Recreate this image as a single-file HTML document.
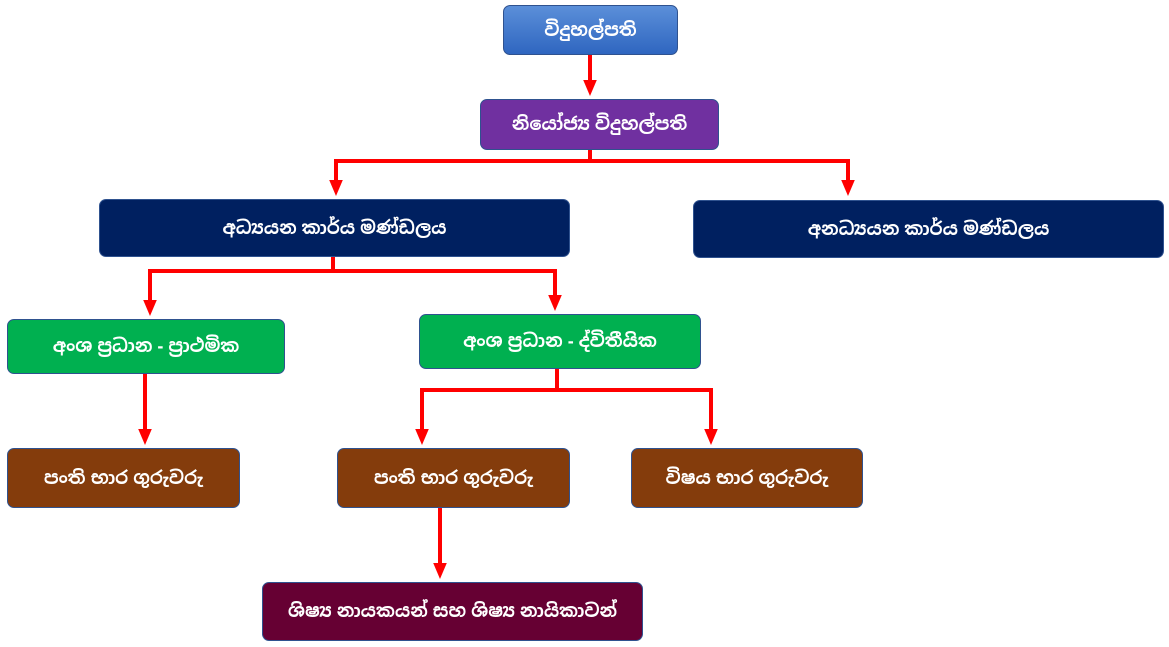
<!DOCTYPE html>
<html><head><meta charset="utf-8"><style>
body{margin:0;width:1169px;height:647px;background:#fff;position:relative;overflow:hidden;font-family:"Liberation Sans","Noto Sans Sinhala","Iskoola Pota",sans-serif}
.b{position:absolute;box-sizing:border-box;border:1px solid #2f528f;border-radius:7px;color:#fff;font-weight:bold;font-size:18px;display:flex;align-items:center;justify-content:center;white-space:nowrap}
svg{position:absolute;left:0;top:0}
</style></head><body>
<svg width="1169" height="647">
<defs><marker id="a" markerWidth="4" markerHeight="4" refX="2" refY="2" orient="auto" markerUnits="strokeWidth"><path d="M0,0.3 L4,2 L0,3.7z" fill="#f00"/></marker></defs>
<g stroke="#f00" stroke-width="4" fill="none">
<path d="M590 54 V88" marker-end="url(#a)"/>
<path d="M590 149 V161 H336 V188" marker-end="url(#a)"/>
<path d="M590 161 H848 V188" marker-end="url(#a)"/>
<path d="M333 256 V271 H150 V308" marker-end="url(#a)"/>
<path d="M333 271 H555 V303" marker-end="url(#a)"/>
<path d="M145 373 V437" marker-end="url(#a)"/>
<path d="M557 368 V390 H422 V437" marker-end="url(#a)"/>
<path d="M557 390 H711 V437" marker-end="url(#a)"/>
<path d="M440 507 V571" marker-end="url(#a)"/>
</g></svg>
<div class="b" style="left:503px;top:5px;width:175px;height:50px;background:linear-gradient(#5b8fd9,#2f66c0)">විදුහල්පති</div>
<div class="b" style="left:480px;top:99px;width:239px;height:51px;background:#7030a0">නියෝජ්‍ය විදුහල්පති</div>
<div class="b" style="left:99px;top:199px;width:471px;height:58px;background:#002060">අධ්‍යයන කාර්ය මණ්ඩලය</div>
<div class="b" style="left:693px;top:200px;width:471px;height:58px;background:#002060">අනධ්‍යයන කාර්ය මණ්ඩලය</div>
<div class="b" style="left:7px;top:319px;width:278px;height:55px;background:#00b050">අංශ ප්‍රධාන - ප්‍රාථමික</div>
<div class="b" style="left:419px;top:314px;width:282px;height:55px;background:#00b050">අංශ ප්‍රධාන - ද්විතීයික</div>
<div class="b" style="left:7px;top:448px;width:233px;height:60px;background:#843c0c">පංති භාර ගුරුවරු</div>
<div class="b" style="left:337px;top:448px;width:233px;height:60px;background:#843c0c">පංති භාර ගුරුවරු</div>
<div class="b" style="left:631px;top:448px;width:232px;height:60px;background:#843c0c">විෂය භාර ගුරුවරු</div>
<div class="b" style="left:262px;top:582px;width:381px;height:59px;background:#660033">ශිෂ්‍ය නායකයන් සහ ශිෂ්‍ය නායිකාවන්</div>
</body></html>
